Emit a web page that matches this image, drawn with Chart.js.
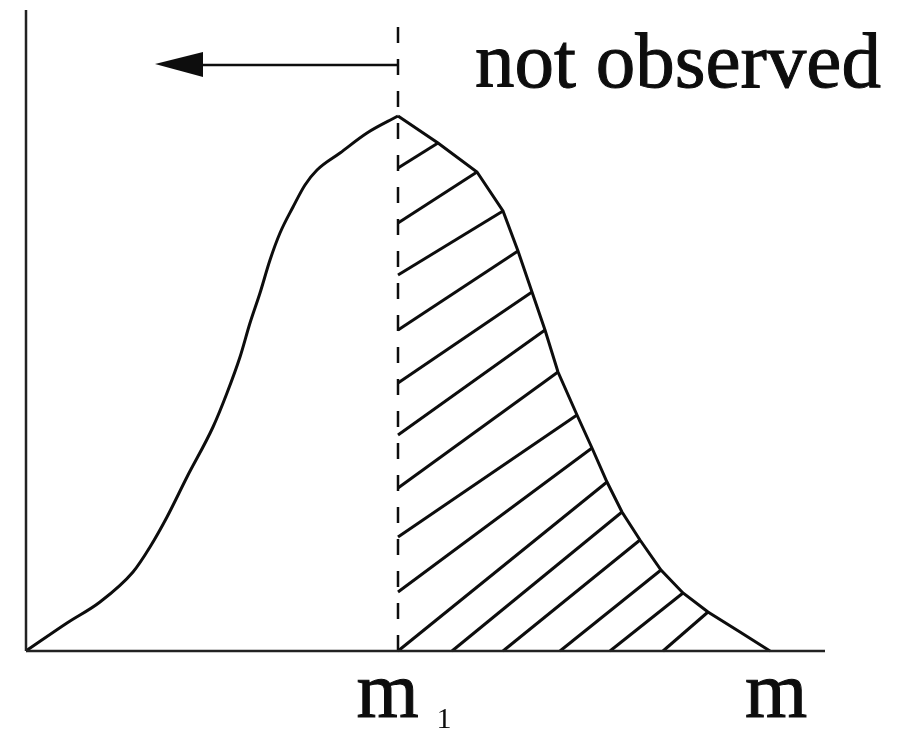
<!DOCTYPE html>
<html>
<head>
    <title>Truncated distribution</title>
    <style>
        body { margin: 0; background: #ffffff; }
        #wrap { width: 903px; height: 735px; }
    </style>
</head>
<body>
    <div id="wrap">
        <canvas id="dist-chart" width="903" height="735"></canvas>
    </div>

    <script src="https://cdn.jsdelivr.net/npm/chart.js"></script>

    <script>
        // axis ranges (arbitrary units)
        const xMax = 799;
        const yMax = 641;

        // the cut at m1 and the end of the distribution at m
        const cutX = 372;
        const endX = 744;
        const cutTop = 624;

        // density curve, left of the cut (smooth rise)
        const leftX = [0, 41, 74, 107, 124, 141, 161, 187, 201, 214, 224, 234, 244, 254, 267, 279, 291, 314, 341, 372];
        const leftY = [0, 28, 49, 79, 104, 134, 174, 224, 258, 294, 328, 358, 391, 418, 444, 466, 481, 498, 518, 535];

        // density curve, right of the cut (observed part)
        const rightX = [372, 412, 451, 477, 492, 506, 519, 532, 551, 566, 581, 596, 614, 635, 657, 682, 714, 744];
        const rightY = [535, 508, 479, 440, 400, 359, 321, 279, 236, 203, 169, 139, 111, 81, 58, 39, 19, 0];

        // hatching: each stroke runs from the cut / axis up to the curve
        const hatchFromX = [372, 372, 372, 372, 372, 372, 372, 372, 372, 372, 426, 477, 534, 584, 637];
        const hatchFromY = [483, 428, 376, 321, 268, 216, 163, 114, 59, 0, 0, 0, 0, 0, 0];
        const hatchToX = [412, 451, 477, 492, 506, 519, 532, 551, 566, 581, 596, 614, 635, 657, 682];
        const hatchToY = [508, 479, 440, 400, 359, 321, 279, 236, 203, 169, 139, 111, 81, 58, 39];

        // arrow pointing into the unobserved region
        const arrowY = 586;
        const arrowShaftEnd = 177;
        const arrowTip = 129;

        const annotation = 'not observed';
        const tickLabels = ['m', 'm'];
        const tickSubs = ['1', ''];
        const tickValues = [cutX, endX];

        const ink = '#0d0d0d';
        const serif = '"Liberation Serif", "Times New Roman", serif';
        const toPoints = (xs, ys) => xs.map((x, i) => ({ x: x, y: ys[i] }));

        const baseLine = {
            showLine: true,
            pointRadius: 0,
            pointHoverRadius: 0,
            borderColor: ink,
            tension: 0,
            clip: false,
            fill: false
        };

        const datasets = [];

        // axes
        datasets.push({ ...baseLine, data: [{ x: 0, y: 0 }, { x: xMax, y: 0 }], borderWidth: 2.5, borderColor: '#222222' });
        datasets.push({ ...baseLine, data: [{ x: 0, y: 0 }, { x: 0, y: yMax }], borderWidth: 2.5, borderColor: '#222222' });

        // hatch strokes
        hatchFromX.forEach((x, i) => {
            datasets.push({
                ...baseLine,
                data: [{ x: x, y: hatchFromY[i] }, { x: hatchToX[i], y: hatchToY[i] }],
                borderWidth: 3
            });
        });

        // dashed cut line, drawn top down
        datasets.push({
            ...baseLine,
            data: [{ x: cutX, y: cutTop }, { x: cutX, y: 0 }],
            borderWidth: 2.5,
            borderDash: [16, 16]
        });

        // arrow shaft
        datasets.push({
            ...baseLine,
            data: [{ x: cutX, y: arrowY }, { x: arrowShaftEnd, y: arrowY }],
            borderWidth: 2.5
        });

        // the curve: smooth on the left, segmented on the right
        datasets.push({ ...baseLine, data: toPoints(leftX, leftY), borderWidth: 3, cubicInterpolationMode: 'monotone' });
        datasets.push({ ...baseLine, data: toPoints(rightX, rightY), borderWidth: 3 });

        // draws text slightly heavier than the plain face
        function heavyText(ctx, text, x, y) {
            ctx.fillText(text, x, y);
            ctx.strokeText(text, x, y);
        }

        // arrow head and text labels
        const decorations = {
            id: 'decorations',
            afterDatasetsDraw(chart) {
                const ctx = chart.ctx;
                const xs = chart.scales.x;
                const ys = chart.scales.y;

                const tipX = xs.getPixelForValue(arrowTip);
                const baseX = xs.getPixelForValue(arrowShaftEnd);
                const ay = ys.getPixelForValue(arrowY);
                ctx.save();
                ctx.fillStyle = ink;
                ctx.strokeStyle = ink;
                ctx.beginPath();
                ctx.moveTo(tipX, ay - 1);
                ctx.lineTo(baseX, ay - 13);
                ctx.lineTo(baseX, ay + 12);
                ctx.closePath();
                ctx.fill();

                ctx.lineWidth = 1;
                ctx.textBaseline = 'alphabetic';
                ctx.textAlign = 'left';
                ctx.font = '79px ' + serif;
                heavyText(ctx, annotation, xs.getPixelForValue(449), 87);

                // tick labels under the axis, with optional subscript
                tickLabels.forEach((label, i) => {
                    ctx.font = '80px ' + serif;
                    const mainW = ctx.measureText(label).width;
                    let subW = 0;
                    const gap = tickSubs[i] ? 18 : 0;
                    if (tickSubs[i]) {
                        ctx.font = '30px ' + serif;
                        subW = ctx.measureText(tickSubs[i]).width;
                    }
                    const cx = xs.getPixelForValue(tickValues[i]);
                    const left = cx - (mainW + gap + subW) / 2 + 6;
                    ctx.font = '80px ' + serif;
                    heavyText(ctx, label, left, 717);
                    if (tickSubs[i]) {
                        ctx.font = '30px ' + serif;
                        ctx.fillText(tickSubs[i], left + mainW + gap, 728);
                    }
                });
                ctx.restore();
            }
        };

        new Chart(document.getElementById('dist-chart').getContext('2d'), {
            type: 'scatter',
            data: { datasets: datasets },
            options: {
                responsive: false,
                animation: false,
                events: [],
                layout: { padding: { left: 26, right: 78, top: 10, bottom: 84 } },
                plugins: {
                    legend: { display: false },
                    tooltip: { enabled: false }
                },
                scales: {
                    x: { type: 'linear', display: false, min: 0, max: xMax },
                    y: { type: 'linear', display: false, min: 0, max: yMax }
                }
            },
            plugins: [decorations]
        });
    </script>
</body>
</html>
